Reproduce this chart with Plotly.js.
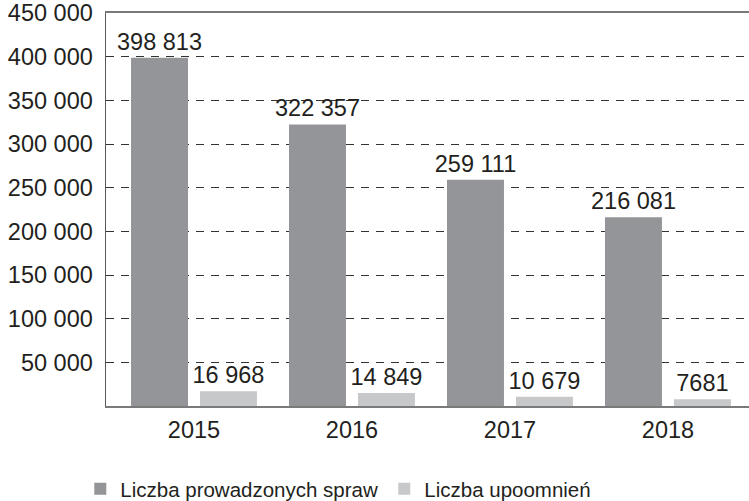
<!DOCTYPE html>
<html>
<head>
<meta charset="utf-8">
<script src="https://cdn.plot.ly/plotly-3.0.1.min.js"></script>
<style>html,body{margin:0;padding:0;background:#fff;}#chart{width:749px;height:501px;}</style>
</head>
<body>
<div id="chart"></div>
<script>
const years = ["2015", "2016", "2017", "2018"];
const cases = [398813, 322357, 259111, 216081];
const warnings = [16968, 14849, 10679, 7681];
const seriesNames = ["Liczba prowadzonych spraw", "Liczba upoomnień"];
const yTickVals = [50000, 100000, 150000, 200000, 250000, 300000, 350000, 400000, 450000];
const yTickText = ["50 000", "100 000", "150 000", "200 000", "250 000", "300 000", "350 000", "400 000", "450 000"];

function fmt(v) {
  const s = String(v);
  if (v < 10000) return s;
  return s.replace(/\B(?=(\d{3})+(?!\d))/g, " ");
}

const FONT = "Liberation Sans, Arial, sans-serif";
const TXT = "#231f20";
const NUM = 23.5;

const traces = [
  {
    type: "bar", name: seriesNames[0], x: years, y: cases,
    text: cases.map(fmt), textposition: "outside", cliponaxis: false, constraintext: "none",
    textfont: {family: FONT, size: NUM, color: TXT},
    marker: {color: "#949598"}, hoverinfo: "skip"
  },
  {
    type: "bar", name: seriesNames[1], x: years, y: warnings,
    text: warnings.map(fmt), textposition: "outside", cliponaxis: false, constraintext: "none",
    textfont: {family: FONT, size: NUM, color: TXT},
    marker: {color: "#c7c8ca"}, hoverinfo: "skip"
  }
];

const layout = {
  width: 749, height: 501,
  margin: {l: 106, r: 0, t: 13, b: 95, autoexpand: false},
  paper_bgcolor: "#fff", plot_bgcolor: "#fff",
  font: {family: FONT, size: NUM, color: TXT},
  barmode: "group", bargap: 0.127, bargroupgap: 0.174,
  showlegend: true,
  legend: {
    orientation: "h", x: -0.04, xanchor: "left", y: -0.211, yanchor: "middle",
    font: {family: FONT, size: 20.5, color: TXT},
    entrywidth: 259, entrywidthmode: "pixels", traceorder: "normal"
  },
  xaxis: {
    type: "category", range: [-0.557, 3.513], automargin: false,
    showline: true, linecolor: "#7a7a7a", linewidth: 2, mirror: true,
    ticks: "", ticklabelstandoff: 2, showgrid: false, zeroline: false,
    tickfont: {family: FONT, size: NUM, color: TXT}
  },
  yaxis: {
    range: [0, 450000], tickvals: yTickVals, ticktext: yTickText, automargin: false,
    showline: true, linecolor: "#5a5a5a", linewidth: 1.5,
    ticks: "", ticklabelstandoff: 7,
    showgrid: true, gridcolor: "#333", gridwidth: 1, griddash: "8px,7px",
    zeroline: false,
    tickfont: {family: FONT, size: NUM, color: TXT}
  }
};

Plotly.newPlot("chart", traces, layout, {staticPlot: true, displayModeBar: false});
</script>
</body>
</html>
